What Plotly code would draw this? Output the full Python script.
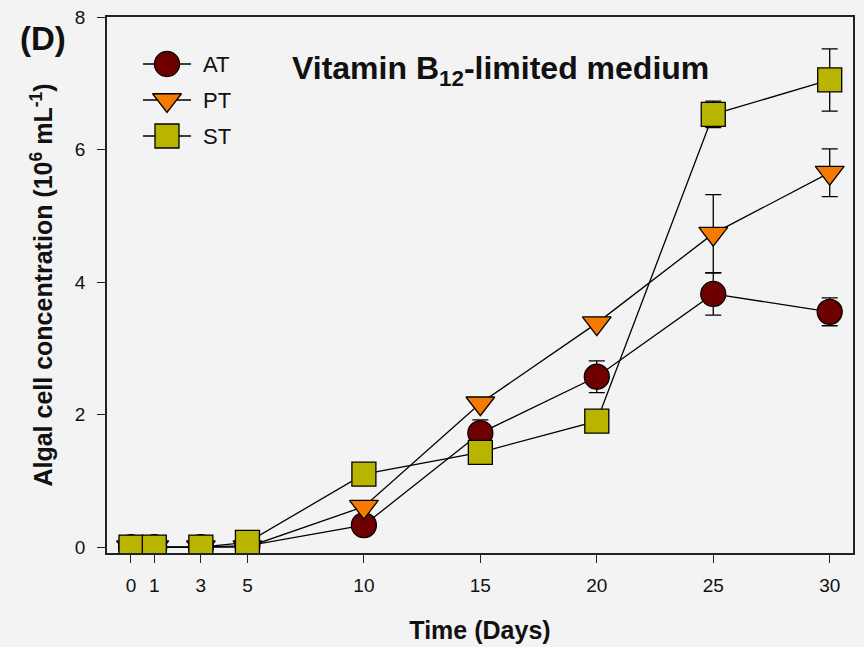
import plotly.graph_objects as go

# Sampling days
days = [0, 1, 3, 5, 10, 15, 20, 25, 30]

# Algal cell concentration (10^6 cells per mL), mean and standard deviation
at_mean = [0.0, 0.0, 0.0, 0.02, 0.33, 1.72, 2.57, 3.82, 3.55]
at_sd = [0.0, 0.0, 0.0, 0.0, 0.0, 0.20, 0.24, 0.32, 0.21]

pt_mean = [0.0, 0.0, 0.0, 0.0, 0.61, 2.17, 3.38, 4.73, 5.65]
pt_sd = [0.0, 0.0, 0.0, 0.0, 0.0, 0.0, 0.0, 0.59, 0.36]

st_mean = [0.0, 0.0, 0.0, 0.07, 1.10, 1.43, 1.90, 6.53, 7.05]
st_sd = [0.0, 0.0, 0.0, 0.0, 0.0, 0.0, 0.0, 0.20, 0.47]

series_names = ["AT", "PT", "ST"]
x_tick_vals = [0, 1, 3, 5, 10, 15, 20, 25, 30]
y_tick_vals = [0, 2, 4, 6, 8]

# Styling
FONT = "Liberation Sans, Arial, sans-serif"
BG = "#f3f3f3"
INK = "#111111"
COLORS = {"AT": "#6e0000", "PT": "#f57a00", "ST": "#b8b400"}
SYMBOLS = {"AT": "circle", "PT": "triangle-down", "ST": "square"}
SIZES = {"AT": 25, "PT": 25, "ST": 24}

W, H = 864, 647
L, R, T, B = 107, 11, 17, 94
PW, PH = W - L - R, H - T - B


def page_to_paper(px, py):
    """Convert page pixel position to paper (plot-area) fractions."""
    return (px - L) / PW, (H - B - py) / PH


fig = go.Figure()

for name, mean, sd in zip(series_names,
                          [at_mean, pt_mean, st_mean],
                          [at_sd, pt_sd, st_sd]):
    fig.add_trace(go.Scatter(
        x=days, y=mean, name=name, mode="lines+markers",
        line=dict(color="black", width=1.3),
        marker=dict(symbol=SYMBOLS[name], size=SIZES[name], color=COLORS[name],
                    line=dict(color="black", width=1.3)),
        error_y=dict(type="data", array=sd, visible=True, color="black",
                     thickness=1.3, width=8),
        showlegend=False,
    ))

# Legend glyphs drawn on an overlay axis measured in page pixels
leg_rows = {"AT": 64, "PT": 100, "ST": 136}
leg_x0, leg_x1, leg_xm, leg_tx = 143, 191, 167, 201
for name in series_names:
    yy = leg_rows[name]
    fig.add_trace(go.Scatter(
        x=[leg_x0, leg_x1], y=[yy, yy], mode="lines",
        line=dict(color="black", width=1.3),
        xaxis="x2", yaxis="y2", showlegend=False, hoverinfo="skip"))
    fig.add_trace(go.Scatter(
        x=[leg_xm], y=[yy], mode="markers",
        marker=dict(symbol=SYMBOLS[name], size=SIZES[name], color=COLORS[name],
                    line=dict(color="black", width=1.3)),
        xaxis="x2", yaxis="y2", showlegend=False, hoverinfo="skip"))
    fig.add_annotation(x=leg_tx, y=yy, xref="x2", yref="y2", text=name,
                       showarrow=False, xanchor="left", yanchor="middle",
                       font=dict(family=FONT, size=22, color=INK))

axis_common = dict(
    showline=True, mirror=True, linecolor="#222", linewidth=1.5,
    ticks="outside", ticklen=8, tickwidth=1.3, tickcolor="#222",
    showgrid=False, zeroline=False, automargin=False,
    tickfont=dict(family=FONT, size=19, color=INK),
)

fig.update_layout(
    width=W, height=H,
    margin=dict(l=L, r=R, t=T, b=B),
    paper_bgcolor=BG, plot_bgcolor=BG,
    xaxis=dict(range=[-1.03, 31.0], tickvals=x_tick_vals,
               ticktext=[str(v) for v in x_tick_vals],
               ticklabelstandoff=6,
               title=dict(text="<b>Time (Days)</b>", standoff=27,
                          font=dict(family=FONT, size=25, color=INK)),
               **axis_common),
    yaxis=dict(range=[-0.09, 8.0], tickvals=y_tick_vals,
               ticklabelstandoff=8,
               title=dict(text="<b>Algal cell concentration (10<sup>6</sup> mL<sup>-1</sup>)</b>",
                          standoff=15,
                          font=dict(family=FONT, size=25, color=INK)),
               **axis_common),
    xaxis2=dict(range=[L, W - R], overlaying="x", visible=False, fixedrange=True),
    yaxis2=dict(range=[H - B, T], overlaying="y", visible=False, fixedrange=True),
)

# Panel letter, outside the plotting area
dx, dy = page_to_paper(18, 38)
fig.add_annotation(x=dx, y=dy, xref="paper", yref="paper", text="<b>(D)</b>",
                   showarrow=False, xanchor="left", yanchor="middle",
                   font=dict(family=FONT, size=33, color=INK))
# Panel heading
fig.add_annotation(x=500, y=70, xref="x2", yref="y2",
                   text="<b>Vitamin B<sub>12</sub>-limited medium</b>",
                   showarrow=False, xanchor="center", yanchor="middle",
                   font=dict(family=FONT, size=32, color=INK))

fig.write_html("out.html")
